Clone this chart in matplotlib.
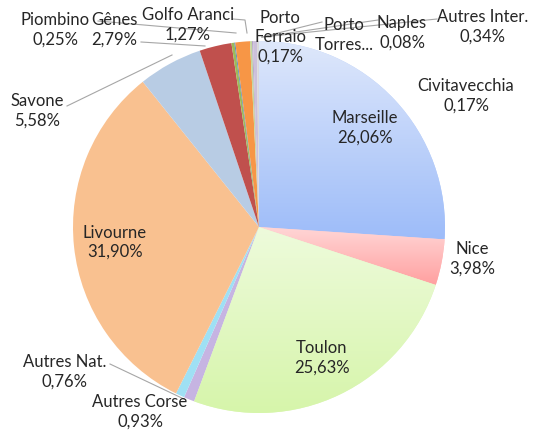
import numpy as np
import matplotlib.pyplot as plt
from matplotlib.colors import LinearSegmentedColormap

plt.rcParams['font.family'] = ['Lato', 'DejaVu Sans']

labels = ['Marseille', 'Nice', 'Toulon', 'Autres Corse', 'Autres Nat.', 'Livourne',
          'Savone', 'Gênes', 'Piombino', 'Naples', 'Golfo Aranci', 'Porto\nFerraio',
          'Porto\nTorres...', 'Autres Inter.', 'Civitavecchia']
values = [26.06, 3.98, 25.63, 0.93, 0.76, 31.90, 5.58, 2.79, 0.25, 0.08, 1.27,
          0.17, 0.09, 0.34, 0.17]
shown = ['26,06%', '3,98%', '25,63%', '0,93%', '0,76%', '31,90%', '5,58%', '2,79%',
         '0,25%', '0,08%', '1,27%', '0,17%', '', '0,34%', '0,17%']
colors = ['#b9cff9', '#ffbcbc', '#e0f8be', '#c6b4e2', '#9fe0f4', '#f9c190',
          '#b8cce4', '#c0504d', '#9bbb59', '#4f81bd', '#f79646', '#c3d69b',
          '#b3a2c7', '#ccc0da', '#d9d9d9']
# top / bottom colours for the gradient-filled slices
gradients = {0: ('#dfe8fb', '#9dbcf9'), 1: ('#ffd6d6', '#ffa0a0'), 2: ('#eefbdc', '#d6f5aa')}

# pie centre and radius in pixels
cx, cy, R = 259, 227, 186
W, H = 544, 432

fig = plt.figure(figsize=(5.44, 4.32), dpi=100)
ax = fig.add_axes([(cx - R) / W, (H - cy - R) / H, 2 * R / W, 2 * R / H])

wedges, _ = ax.pie(values, colors=colors, startangle=90, counterclock=False,
                   radius=1, wedgeprops=dict(linewidth=0))

for i, (top, bot) in gradients.items():
    w = wedges[i]
    cmap = LinearSegmentedColormap.from_list('g%d' % i, [bot, top])
    grad = np.linspace(1, 0, 256).reshape(-1, 1)
    vy = w.get_path().vertices[:, 1]
    im = ax.imshow(grad, cmap=cmap, extent=[-1, 1, vy.min(), vy.max()], aspect='auto',
                   zorder=w.get_zorder() + 0.1, vmin=0, vmax=1)
    im.set_clip_path(w)

ax.set_xlim(-1, 1)
ax.set_ylim(-1, 1)
ax.set_aspect('equal')
ax.axis('off')


def px(x, y):
    return (x - cx) / R, (cy - y) / R


tc = '#262626'
fs = 12

# labels inside the big slices
for i in [0, 2, 5]:
    w = wedges[i]
    a = np.deg2rad((w.theta1 + w.theta2) / 2)
    ax.text(0.78 * np.cos(a), 0.78 * np.sin(a), labels[i] + '\n' + shown[i],
            ha='center', va='center', fontsize=fs, color=tc, linespacing=1.25)

# outside labels (pixel centres)
outside = {1: (472, 259), 3: (140, 412), 4: (65, 372), 6: (37, 111), 7: (114, 30),
           8: (55, 30), 9: (402, 33), 10: (188, 25), 11: (280, 37), 12: (344, 35),
           13: (483, 27), 14: (466, 96)}
for i, (x, y) in outside.items():
    txt = labels[i] + ('\n' + shown[i] if shown[i] else '')
    ax.text(*px(x, y), txt, ha='center', va='center', fontsize=fs, color=tc,
            linespacing=1.25, zorder=5, clip_on=False)

# leader lines
leaders = [[(98, 21), (236, 33)],
           [(141, 42), (205, 46)],
           [(233, 19), (245, 20), (247, 33)],
           [(67, 106), (172, 55)],
           [(110, 364), (186, 400)],
           [(262, 37), (322, 22)],
           [(262, 37), (378, 20)],
           [(262, 37), (437, 19)]]
for pts in leaders:
    xs, ys = zip(*[px(*p) for p in pts])
    ax.plot(xs, ys, color='#a6a6a6', lw=0.8, zorder=4, clip_on=False)

fig.savefig('out.png', dpi=100)
